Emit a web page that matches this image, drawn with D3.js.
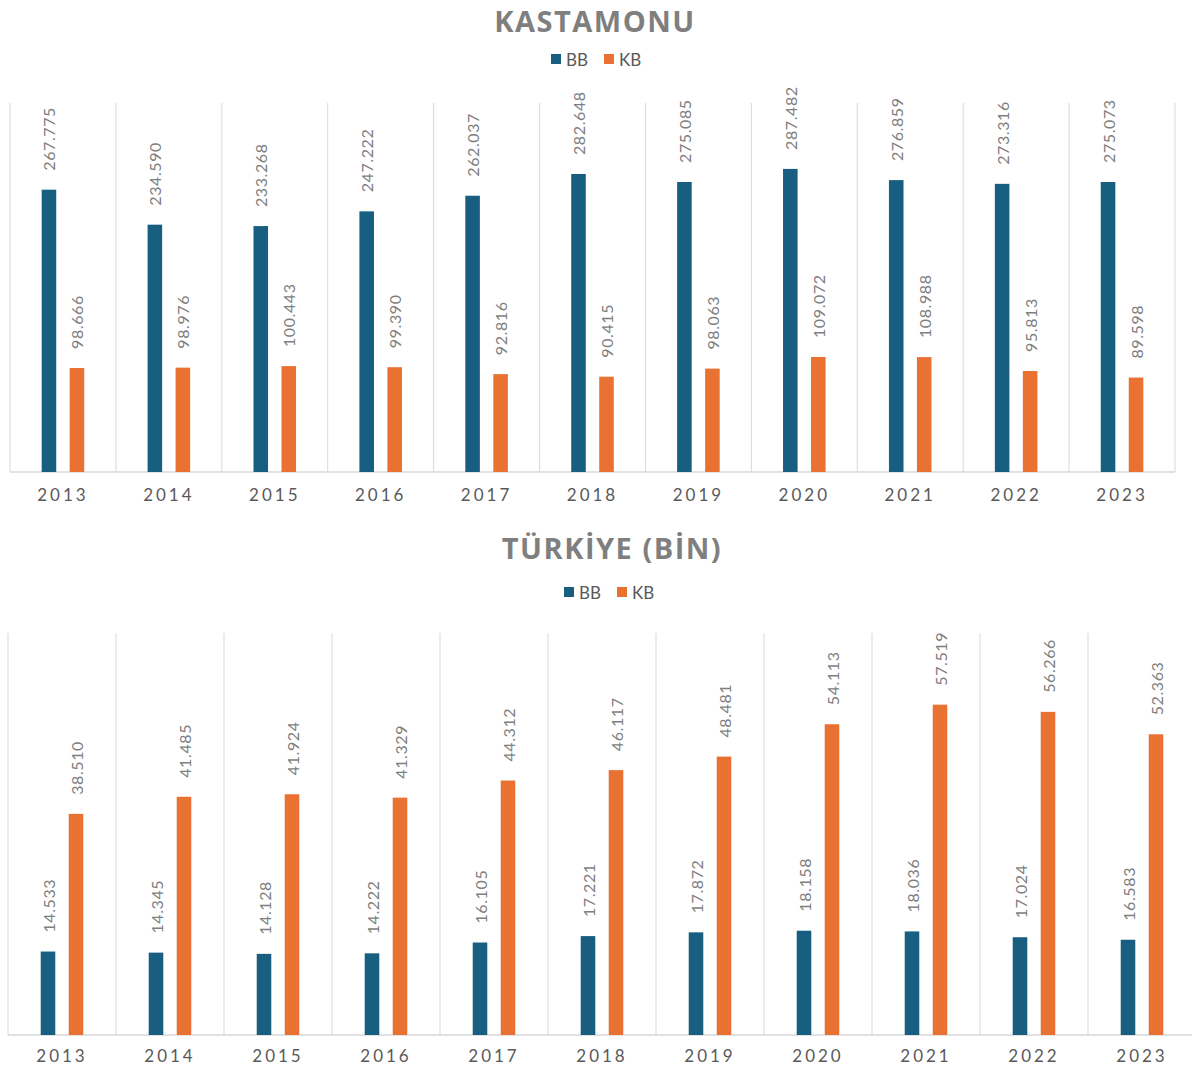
<!DOCTYPE html>
<html>
<head>
<meta charset="utf-8">
<script src="https://cdn.jsdelivr.net/npm/d3@7"></script>
<style>
  body { margin: 0; background: #fff; }
  svg { display: block; font-family: "Lato", "Open Sans", sans-serif; }
</style>
</head>
<body>
<div id="chart"></div>
<script>
// years on the x axis
const years = ["2013", "2014", "2015", "2016", "2017", "2018", "2019", "2020", "2021", "2022", "2023"]
const seriesKeys = ["BB", "KB"]

// Kastamonu
const kastamonuBB = [267775, 234590, 233268, 247222, 262037, 282648, 275085, 287482, 276859, 273316, 275073]
const kastamonuKB = [98666, 98976, 100443, 99390, 92816, 90415, 98063, 109072, 108988, 95813, 89598]

// Türkiye (bin)
const turkiyeBB = [14533, 14345, 14128, 14222, 16105, 17221, 17872, 18158, 18036, 17024, 16583]
const turkiyeKB = [38510, 41485, 41924, 41329, 44312, 46117, 48481, 54113, 57519, 56266, 52363]

const colors = { BB: "#175e80", KB: "#e97132" }
const width = 1192, height = 1068

const trLocale = d3.formatLocale({ decimal: ",", thousands: ".", grouping: [3], currency: ["", "₺"] })
const fmt = trLocale.format(",d")

const svg = d3.select("#chart").append("svg")
    .attr("width", width)
    .attr("height", height)
    .attr("viewBox", [0, 0, width, height])

function drawPanel(opts) {
    const { title, titleX, titleY, legendX, legendY, top, bottom, left, right, yMax, bb, kb, tickY } = opts
    const g = svg.append("g")

    const data = years.map((y, i) => ({ year: y, BB: bb[i], KB: kb[i] }))

    const x0 = d3.scaleBand(years, [left, right]).paddingInner(0).paddingOuter(0)
    const bw = x0.bandwidth()
    const x1 = d3.scaleBand(seriesKeys, [bw / 2 - 28, bw / 2 + 28]).paddingInner(0.48).paddingOuter(0.24)
    const y = d3.scaleLinear([0, yMax], [bottom, top])

    // title
    g.append("text")
        .attr("x", titleX)
        .attr("y", titleY)
        .attr("text-anchor", "middle")
        .attr("dominant-baseline", "central")
        .attr("font-family", "'Open Sans', sans-serif")
        .attr("font-weight", 700)
        .attr("font-size", 29)
        .attr("letter-spacing", 1.5)
        .attr("fill", "#7f7f7f")
        .text(title)

    // legend
    const legend = g.append("g").attr("transform", `translate(${legendX}, ${legendY})`)
    const items = [{ k: "BB", dx: -44 }, { k: "KB", dx: 9 }]
    items.forEach(it => {
        legend.append("rect")
            .attr("x", it.dx).attr("y", -5)
            .attr("width", 10).attr("height", 10)
            .attr("fill", colors[it.k])
        legend.append("text")
            .attr("x", it.dx + 15).attr("y", 0)
            .attr("dominant-baseline", "central")
            .attr("font-size", 17)
            .attr("fill", "#595959")
            .text(it.k)
    })

    // vertical category dividers
    const edges = years.map(d => x0(d)).concat([x0(years[years.length - 1]) + bw])
    g.append("g").selectAll("line")
        .data(edges)
        .join("line")
            .attr("x1", d => d).attr("x2", d => d)
            .attr("y1", top).attr("y2", bottom)
            .attr("stroke", "#d9d9d9")
            .attr("stroke-width", 1)

    // baseline
    g.append("line")
        .attr("x1", left).attr("x2", right)
        .attr("y1", bottom).attr("y2", bottom)
        .attr("stroke", "#d9d9d9")
        .attr("stroke-width", 1.3)

    // bars
    const groups = g.append("g").selectAll("g")
        .data(data)
        .join("g")
            .attr("transform", d => `translate(${x0(d.year)},0)`)

    groups.selectAll("rect")
        .data(d => seriesKeys.map(k => ({ key: k, value: d[k] })))
        .join("rect")
            .attr("x", d => x1(d.key))
            .attr("y", d => y(d.value))
            .attr("width", x1.bandwidth())
            .attr("height", d => y(0) - y(d.value))
            .attr("fill", d => colors[d.key])

    // value labels, rotated
    groups.selectAll("text")
        .data(d => seriesKeys.map(k => ({ key: k, value: d[k] })))
        .join("text")
            .attr("transform", d => `translate(${x1(d.key) + x1.bandwidth() / 2},${y(d.value) - 19}) rotate(-90)`)
            .attr("dominant-baseline", "central")
            .attr("font-size", 16)
            .attr("letter-spacing", 0.6)
            .attr("fill", "#7f7f7f")
            .text(d => fmt(d.value))

    // x axis labels
    const xAxis = d3.axisBottom(x0).tickSize(0).tickPadding(0)
    const ax = g.append("g")
        .attr("transform", `translate(0,${tickY})`)
        .call(xAxis)
    ax.select(".domain").remove()
    ax.selectAll("text")
        .attr("dy", "0.35em")
        .attr("font-family", "'Lato', sans-serif")
        .attr("font-size", 17)
        .attr("letter-spacing", 3)
        .attr("fill", "#595959")
}

drawPanel({
    title: "KASTAMONU", titleX: 595, titleY: 20, legendX: 595, legendY: 59,
    top: 103, bottom: 472, left: 10, right: 1175,
    yMax: 350000, bb: kastamonuBB, kb: kastamonuKB, tickY: 495
})

drawPanel({
    title: "TÜRKİYE (BİN)", titleX: 612, titleY: 547, legendX: 608, legendY: 592,
    top: 633, bottom: 1035, left: 8, right: 1196,
    yMax: 70000, bb: turkiyeBB, kb: turkiyeKB, tickY: 1056
})
</script>
</body>
</html>
